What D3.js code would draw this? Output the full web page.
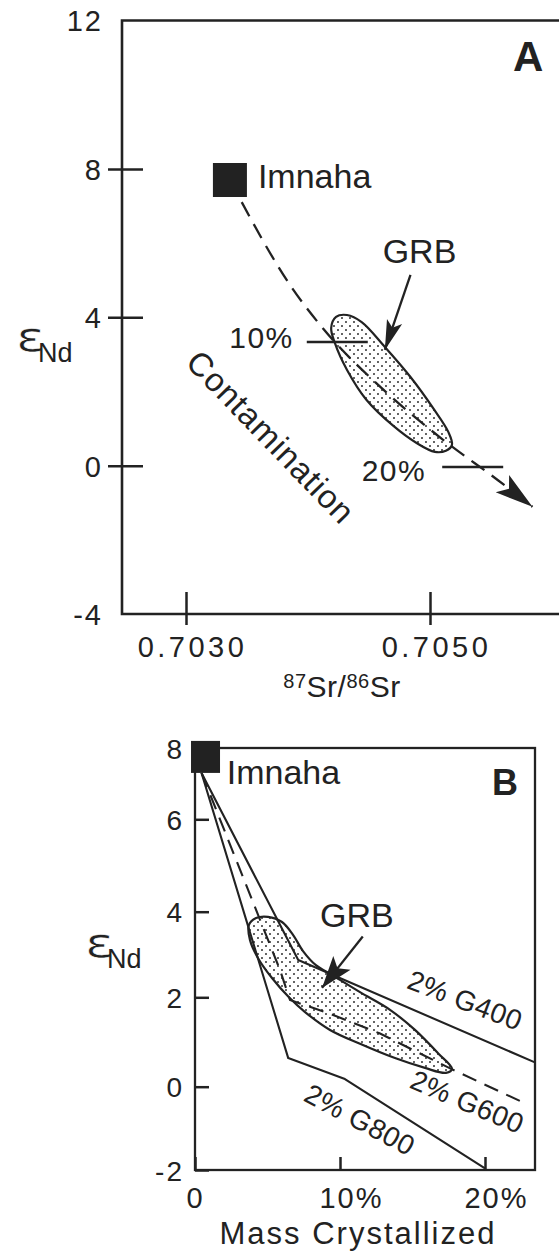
<!DOCTYPE html>
<html>
<head>
<meta charset="utf-8">
<script src="https://cdn.jsdelivr.net/npm/d3@7"></script>
<style>
  body { margin: 0; background: #fff; }
  text { font-family: "Liberation Sans", Arial, Helvetica, sans-serif; fill: #222; }
</style>
</head>
<body>
<svg id="chart" width="559" height="1252"></svg>
<script>
// ---- panel A : eNd vs 87Sr/86Sr
var aYTicks = [12, 8, 4, 0, -4];
var aXTicks = [0.7030, 0.7050];
var aImnaha = [0.70336, 7.70];
var aContam = [[0.70336, 7.70], [0.70388, 4.74], [0.70412, 3.71], [0.70462, 2.04],
               [0.70511, 0.69], [0.70556, -0.40], [0.70584, -1.11]];
var aGRB = [[0.70419, 3.71], [0.70423, 4.01], [0.70432, 4.06], [0.70444, 3.87],
            [0.70463, 3.20], [0.70484, 2.39], [0.70503, 1.53], [0.70515, 0.91],
            [0.70518, 0.56], [0.70513, 0.40], [0.70504, 0.37], [0.70489, 0.61],
            [0.70470, 1.07], [0.70448, 1.77], [0.70432, 2.58], [0.70422, 3.31]];
var aPctMarks = [{label: "10%", sr: [0.70399, 0.70449], nd: 3.33},
                 {label: "20%", sr: [0.70510, 0.70560], nd: -0.04}];
var aGRBArrow = [[0.70484, 5.14], [0.70463, 3.12]];

// ---- panel B : eNd vs mass crystallized (%)
var bYTicks = [8, 6, 4, 2, 0, -2];
var bXTicks = [0, 10, 20];
var bImnaha = [0.76, 7.75];
var bG400 = [[0.45, 7.3], [7.12, 2.87], [23.4, 0.55]];
var bG600 = [[0.45, 7.3], [5.86, 2.64], [6.55, 1.94], [9.17, 1.65], [12.76, 1.19],
             [17.59, 0.41], [22.76, -0.40]];
var bG800 = [[0.45, 7.3], [6.43, 0.64], [10.34, 0.17], [20.0, -1.96]];
var bGRB = [[3.72, 3.69], [4.21, 3.85], [5.03, 3.88], [6.00, 3.76], [6.76, 3.46],
            [7.45, 3.08], [8.34, 2.75], [9.45, 2.52], [11.38, 2.12], [13.45, 1.72],
            [15.17, 1.27], [16.76, 0.75], [17.72, 0.40], [17.31, 0.31], [15.86, 0.42],
            [13.79, 0.64], [11.38, 0.96], [9.31, 1.27], [7.59, 1.67], [6.48, 2.00],
            [5.31, 2.45], [4.34, 2.92], [3.79, 3.34]];
var bGRBArrow = [[11.57, 3.42], [8.76, 2.22]];
var bLabels = [{text: "2% G400", m: 18.39, nd: 1.73, rot: 21},
               {text: "2% G600", m: 18.52, nd: -0.58, rot: 23},
               {text: "2% G800", m: 11.06, nd: -1.00, rot: 28}];

var ink = "#222";
var svg = d3.select("#chart");
svg.append("rect").attr("width", 559).attr("height", 1252).attr("fill", "#fff");

var defs = svg.append("defs");
var pat = defs.append("pattern").attr("id", "dots")
  .attr("patternUnits", "userSpaceOnUse").attr("width", 8).attr("height", 8);
pat.append("circle").attr("cx", 2).attr("cy", 2).attr("r", 0.95).attr("fill", ink);
pat.append("circle").attr("cx", 6).attr("cy", 6).attr("r", 0.95).attr("fill", ink);

function arrowHead(g, p0, p1, len, half) {
  var dx = p1[0] - p0[0], dy = p1[1] - p0[1];
  var d = Math.sqrt(dx * dx + dy * dy), ux = dx / d, uy = dy / d;
  var bx = p1[0] - ux * len, by = p1[1] - uy * len;
  var nx = p1[0] - ux * len * 0.78, ny = p1[1] - uy * len * 0.78;
  g.append("path")
    .attr("d", "M" + p1 + "L" + [bx - uy * half, by + ux * half] + "L" + [nx, ny] +
               "L" + [bx + uy * half, by - ux * half] + "Z")
    .attr("fill", ink);
}

function styleTicks(g, size, spacing) {
  g.select(".domain").remove();
  g.attr("font-family", null).attr("font-size", null);
  g.selectAll(".tick line").attr("stroke", ink).attr("stroke-width", 2.5);
  g.selectAll(".tick text").style("font-size", size + "px").style("fill", ink)
    .style("letter-spacing", spacing + "px");
}

// epsilon drawn large, thinned a little with a white outline
function epsNd(g, x, y) {
  g.append("text").attr("x", x).attr("y", y).text("\u03b5")
    .style("font-family", "'DejaVu Sans', sans-serif").style("font-size", "40px")
    .style("stroke", "#fff").style("stroke-width", "0.6px")
    .attr("textLength", 29).attr("lengthAdjust", "spacingAndGlyphs");
  g.append("text").attr("x", x + 22).attr("y", y + 11).text("Nd").style("font-size", "27px");
}

// ================= PANEL A =================
var xA = d3.scaleLinear().domain([0.7030, 0.7050]).range([186, 430]);
var yA = d3.scaleLinear().domain([-4, 12]).range([614, 20.5]);
var gA = svg.append("g");
var leftA = 122;

gA.append("path")
  .attr("d", "M559," + yA(12) + "H" + leftA + "V" + yA(-4) + "H559")
  .attr("fill", "none").attr("stroke", ink).attr("stroke-width", 2.6);

gA.append("g").attr("transform", "translate(" + leftA + ",0)")
  .call(d3.axisLeft(yA).tickValues(aYTicks).tickFormat(function(d) { return String(d); }))
  .call(function(g) {
    styleTicks(g, 29, 2);
    g.selectAll(".tick line").attr("x1", 21).attr("x2", -14)
      .style("display", function(d) { return (d === 12 || d === -4) ? "none" : null; });
    g.selectAll(".tick text").attr("x", -19).attr("dy", "0.36em");
  });

gA.append("g").attr("transform", "translate(0," + yA(-4) + ")")
  .call(d3.axisBottom(xA).tickValues(aXTicks).tickFormat(d3.format(".4f")))
  .call(function(g) {
    styleTicks(g, 29, 3.5);
    g.selectAll(".tick line").attr("y1", -22).attr("y2", 11);
    g.selectAll(".tick text").attr("y", 43).attr("dy", 0).attr("dx", 6);
  });

// x label 87Sr/86Sr
var xl = gA.append("text").attr("x", 342).attr("y", 697).attr("text-anchor", "middle")
  .style("font-size", "30px").style("letter-spacing", "0.5px");
xl.append("tspan").text("87").style("font-size", "20px").attr("dy", -9);
xl.append("tspan").text("Sr/").attr("dy", 9);
xl.append("tspan").text("86").style("font-size", "20px").attr("dy", -9);
xl.append("tspan").text("Sr").attr("dy", 9);

epsNd(gA, 16, 351);

gA.append("text").attr("x", 513).attr("y", 71).text("A")
  .style("font-size", "42px").style("font-weight", "bold");

// GRB field
gA.append("path").datum(aGRB)
  .attr("d", d3.line().x(function(d) { return xA(d[0]); }).y(function(d) { return yA(d[1]); })
    .curve(d3.curveCatmullRomClosed.alpha(0.5)))
  .attr("fill", "url(#dots)").attr("stroke", ink).attr("stroke-width", 2.2);

// contamination curve
var contamLine = d3.line().x(function(d) { return xA(d[0]); }).y(function(d) { return yA(d[1]); })
  .curve(d3.curveMonotoneX);
gA.append("path").datum(aContam).attr("d", contamLine)
  .attr("fill", "none").attr("stroke", ink).attr("stroke-width", 2.3)
  .attr("stroke-dasharray", "16,9");
var nA = aContam.length;
arrowHead(gA, [xA(aContam[nA - 2][0]), yA(aContam[nA - 2][1])],
              [xA(aContam[nA - 1][0]), yA(aContam[nA - 1][1])], 38, 11);

// 10% / 20% marks
aPctMarks.forEach(function(m, i) {
  gA.append("line")
    .attr("x1", xA(m.sr[0])).attr("x2", xA(m.sr[1]))
    .attr("y1", yA(m.nd)).attr("y2", yA(m.nd))
    .attr("stroke", ink).attr("stroke-width", 2.5);
  gA.append("text").attr("x", xA(m.sr[0]) - (i === 0 ? 13 : 16))
    .attr("y", yA(m.nd) + (i === 0 ? 6 : 14))
    .attr("text-anchor", "end").text(m.label)
    .style("font-size", "30px").style("letter-spacing", "1.5px");
});

gA.append("text")
  .attr("transform", "translate(" + xA(0.703628) + "," + yA(0.555) + ") rotate(46)")
  .attr("text-anchor", "middle").text("Contamination")
  .style("font-size", "33px").style("letter-spacing", "1px");

// Imnaha
gA.append("rect").attr("x", xA(aImnaha[0]) - 17).attr("y", yA(aImnaha[1]) - 17)
  .attr("width", 34).attr("height", 34).attr("fill", ink);
gA.append("text").attr("x", xA(aImnaha[0]) + 28).attr("y", yA(aImnaha[1]) + 8)
  .text("Imnaha").style("font-size", "34px");

// GRB label + arrow
gA.append("text").attr("x", xA(aGRBArrow[0][0]) + 9).attr("y", yA(aGRBArrow[0][1]) - 12)
  .attr("text-anchor", "middle").text("GRB").style("font-size", "34px");
gA.append("line")
  .attr("x1", xA(aGRBArrow[0][0])).attr("y1", yA(aGRBArrow[0][1]))
  .attr("x2", xA(aGRBArrow[1][0])).attr("y2", yA(aGRBArrow[1][1]))
  .attr("stroke", ink).attr("stroke-width", 2.3);
arrowHead(gA, [xA(aGRBArrow[0][0]), yA(aGRBArrow[0][1])],
              [xA(aGRBArrow[1][0]), yA(aGRBArrow[1][1])], 30, 8);

// ================= PANEL B =================
var xB = d3.scaleLinear().domain([0, 20]).range([195, 485]);
var yB = d3.scaleLinear().domain([-2, 0, 2, 4, 6, 8]).range([1170, 1086.7, 997.3, 911.7, 819.3, 748]);
var gB = svg.append("g");
var rightB = 535;

gB.append("rect").attr("x", xB(0)).attr("y", yB(8))
  .attr("width", rightB - xB(0)).attr("height", yB(-2) - yB(8))
  .attr("fill", "none").attr("stroke", ink).attr("stroke-width", 2.3);

gB.append("g").attr("transform", "translate(" + xB(0) + ",0)")
  .call(d3.axisLeft(yB).tickValues(bYTicks).tickFormat(function(d) { return String(d); }))
  .call(function(g) {
    styleTicks(g, 28, 2);
    g.selectAll(".tick line").attr("x1", 0).attr("x2", 14);
    g.selectAll(".tick text").attr("x", -11).attr("dy", "0.36em");
  });

gB.append("g").attr("transform", "translate(0," + yB(-2) + ")")
  .call(d3.axisBottom(xB).tickValues(bXTicks).tickFormat(function(d) { return d === 0 ? "0" : d + "%"; }))
  .call(function(g) {
    styleTicks(g, 29, 2);
    g.selectAll(".tick line").attr("y1", 0).attr("y2", -13);
    g.selectAll(".tick text").attr("y", 38).attr("dy", 0)
      .attr("dx", function(d) { return d === 0 ? 0 : 11; });
  });

gB.append("text").attr("x", 358).attr("y", 1244).attr("text-anchor", "middle")
  .text("Mass Crystallized").style("font-size", "31px").style("letter-spacing", "2px");

epsNd(gB, 85, 957);

gB.append("text").attr("x", 492).attr("y", 795).text("B")
  .style("font-size", "36px").style("font-weight", "bold");

var lineB = d3.line().x(function(d) { return xB(d[0]); }).y(function(d) { return yB(d[1]); });

gB.append("path").datum(bGRB)
  .attr("d", lineB.curve(d3.curveCatmullRomClosed.alpha(0.5))(bGRB))
  .attr("fill", "url(#dots)").attr("stroke", ink).attr("stroke-width", 2.2);
lineB.curve(d3.curveLinear);

[bG400, bG800].forEach(function(s) {
  gB.append("path").datum(s).attr("d", lineB)
    .attr("fill", "none").attr("stroke", ink).attr("stroke-width", 2.1)
    .attr("stroke-linejoin", "round");
});
gB.append("path").datum(bG600).attr("d", lineB)
  .attr("fill", "none").attr("stroke", ink).attr("stroke-width", 2.1)
  .attr("stroke-dasharray", "15,9");

bLabels.forEach(function(l) {
  gB.append("text")
    .attr("transform", "translate(" + xB(l.m) + "," + yB(l.nd) + ") rotate(" + l.rot + ")")
    .attr("text-anchor", "middle").text(l.text)
    .style("font-size", "28px").style("letter-spacing", "0.5px");
});

gB.append("rect").attr("x", xB(bImnaha[0]) - 15).attr("y", yB(bImnaha[1]) - 16)
  .attr("width", 29).attr("height", 32).attr("fill", ink);
gB.append("text").attr("x", xB(2.19)).attr("y", yB(6.98))
  .text("Imnaha").style("font-size", "34px");

gB.append("text").attr("x", xB(11.17)).attr("y", yB(3.64))
  .attr("text-anchor", "middle").text("GRB").style("font-size", "34px");
gB.append("line")
  .attr("x1", xB(bGRBArrow[0][0])).attr("y1", yB(bGRBArrow[0][1]))
  .attr("x2", xB(bGRBArrow[1][0])).attr("y2", yB(bGRBArrow[1][1]))
  .attr("stroke", ink).attr("stroke-width", 2.3);
arrowHead(gB, [xB(bGRBArrow[0][0]), yB(bGRBArrow[0][1])],
              [xB(bGRBArrow[1][0]), yB(bGRBArrow[1][1])], 32, 11);
</script>
</body>
</html>
